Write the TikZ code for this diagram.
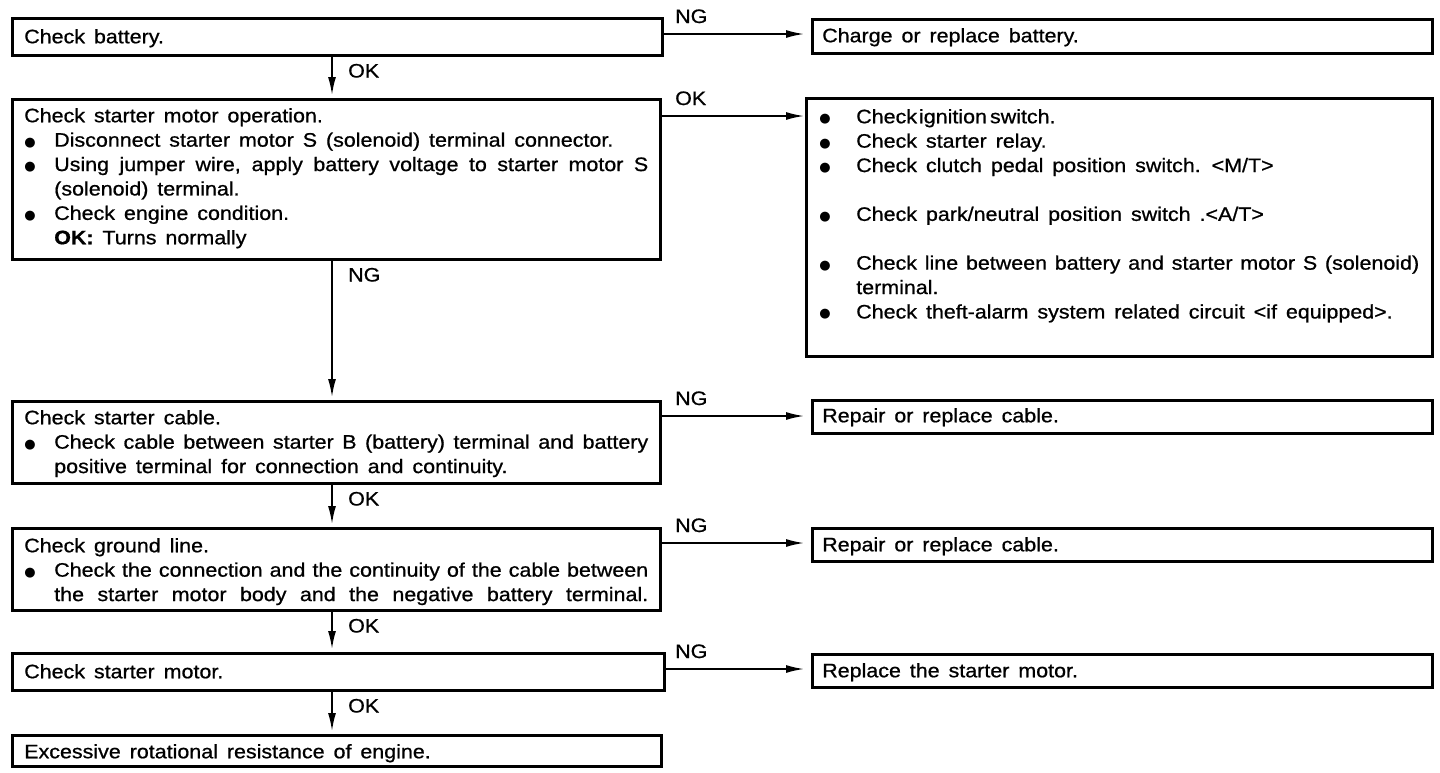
\documentclass[tikz,border=0pt]{standalone}
\usepackage{fontspec}
\setmainfont{Liberation Sans}[FakeStretch=1.1,WordSpace=1.5,FakeBold=0.8]
\newfontfamily\dotfont{DejaVu Sans}
\usetikzlibrary{arrows.meta}

\tolerance=9999
\hbadness=10000
\newcommand{\bitem}[1][30pt]{\hangindent=#1\relax\hangafter=1\relax
  \makebox[#1][l]{\raisebox{0.5pt}{\dotfont\fontsize{13}{13}\selectfont ●}}\ignorespaces}

\begin{document}
\begin{tikzpicture}[x=1pt, y=-1pt, font=\fontsize{19.5}{24.4}\selectfont,
  box/.style={draw, line width=2.5pt, anchor=north west, align=justify,
    inner ysep=0pt, inner xsep=12pt, text width=#1},
  flow/.style={-{Latex[length=18pt,width=8pt]}, line width=1.7pt},
  tag/.style={anchor=base west, inner sep=0pt}]
  \useasboundingbox (0,0) rectangle (1440,772);
  \coordinate (spine) at (332,0);

  % left column
  \node[box=626pt, text height=25pt, text depth=12pt] (bat) at (11,17) {Check battery.};
  \node[box=624pt, text height=23pt, text depth=137pt] (op) at (11,98) {Check starter motor operation.\par
    \bitem Disconnect starter motor S (solenoid) terminal connector.\par
    \bitem Using jumper wire, apply battery voltage to starter motor S\linebreak (solenoid) terminal.\par
    \bitem Check engine condition.\newline \textbf{OK:} Turns normally\par};
  \node[box=624pt, text height=23pt, text depth=59pt] (cab) at (11,400) {Check starter cable.\par
    \bitem Check cable between starter B (battery) terminal and battery\linebreak positive terminal for connection and continuity.\par};
  \node[box=624pt, text height=24pt, text depth=58pt] (gnd) at (11,527) {Check ground line.\par
    \bitem Check the connection and the continuity of the cable between\linebreak the starter motor body and the negative battery terminal.\parfillskip=0pt\par};
  \node[box=628pt, text height=25pt, text depth=12pt] (mot) at (11,652) {Check starter motor.};
  \node[box=625pt, text height=23pt, text depth=8pt] (exc) at (11,734) {Excessive rotational resistance of engine.};

  % right column
  \node[box=600pt, inner xsep=10pt, text height=23pt, text depth=11pt] (chg) at (811,18) {Charge or replace battery.};
  \node[box=600pt, inner xsep=13pt, text height=25pt, text depth=233pt] (chk) at (805,97) {\bitem[37pt] Check\hspace{2pt}ignition\hspace{3pt}switch.\par
    \bitem[37pt] Check starter relay.\par
    \bitem[37pt] Check clutch pedal position switch. <M/T>\par\vspace{24.4pt}
    \bitem[37pt] Check park/neutral position switch .<A/T>\par\vspace{24.4pt}
    \bitem[37pt] Check line between battery and starter motor S (solenoid)\linebreak terminal.\par
    \bitem[37pt] Check theft-alarm system related circuit <if equipped>.\par};
  \node[box=600pt, inner xsep=10pt, text height=22pt, text depth=11pt] (rep1) at (811,399) {Repair or replace cable.};
  \node[box=600pt, inner xsep=10pt, text height=23pt, text depth=10pt] (rep2) at (811,527) {Repair or replace cable.};
  \node[box=600pt, inner xsep=10pt, text height=23pt, text depth=10pt] (rpl) at (811,653) {Replace the starter motor.};

  % main line
  \foreach \a/\b/\t in {bat/op/OK, op/cab/NG, cab/gnd/OK, gnd/mot/OK, mot/exc/OK} {
    \draw[flow, shorten >=3pt] (\a.south -| spine) -- (\b.north -| spine);
    \node[tag] (tag-\b) at ([xshift=16pt, yshift=-21pt]\a.south -| spine) {\t};
  }

  % branches
  \foreach \a/\b/\y/\s/\t in {bat/chg/34/7/NG, op/chk/116/1/OK, cab/rep1/416/7/NG, gnd/rep2/543/7/NG, mot/rpl/669/7/NG} {
    \draw[flow, shorten >=\s pt] (\a.east |- 0,\y) -- (\b.west |- 0,\y);
    \node[tag] (tag-\b) at (675,\y-11) {\t};
  }
\end{tikzpicture}
\end{document}
